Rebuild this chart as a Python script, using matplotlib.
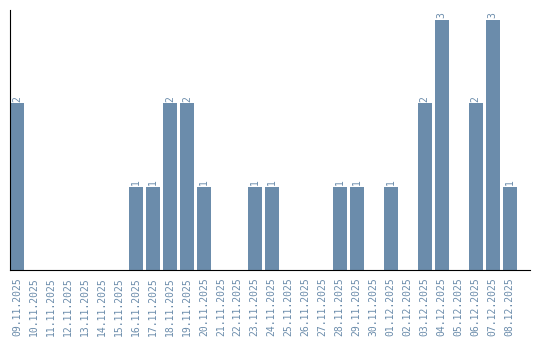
import matplotlib
matplotlib.use("Agg")
import matplotlib.pyplot as plt
import numpy as np

dates = ["09.11.2025", "10.11.2025", "11.11.2025", "12.11.2025", "13.11.2025",
         "14.11.2025", "15.11.2025", "16.11.2025", "17.11.2025", "18.11.2025",
         "19.11.2025", "20.11.2025", "21.11.2025", "22.11.2025", "23.11.2025",
         "24.11.2025", "25.11.2025", "26.11.2025", "27.11.2025", "28.11.2025",
         "29.11.2025", "30.11.2025", "01.12.2025", "02.12.2025", "03.12.2025",
         "04.12.2025", "05.12.2025", "06.12.2025", "07.12.2025", "08.12.2025"]
counts = [2, 0, 0, 0, 0, 0, 0, 1, 1, 2,
          2, 1, 0, 0, 1, 1, 0, 0, 0, 1,
          1, 0, 1, 0, 2, 3, 0, 2, 3, 1]

bar_col = "#6b8cab"
txt_col = "#6b8cab"

fig = plt.figure(figsize=(5.4, 3.4), dpi=100)
ax = fig.add_axes([10/540, 70/340, 520/540, 260/340])

x = np.arange(len(dates))
ax.bar(x, counts, width=0.82, color=bar_col)
for xi, v in zip(x, counts):
    if v > 0:
        ax.text(xi, v + 0.02, str(v), rotation=90, ha="center", va="bottom",
                fontsize=7, color=txt_col, family="DejaVu Sans Mono")

ax.set_xlim(-0.41, 30.2)
ax.set_ylim(0, 3.12)
ax.set_xticks(x)
ax.set_xticklabels(dates, rotation=90, fontsize=7, color=txt_col,
                   family="DejaVu Sans Mono")
ax.tick_params(axis="x", length=0, pad=5)
ax.set_yticks([])
for s in ["top", "right"]:
    ax.spines[s].set_visible(False)
ax.spines["left"].set_color("black")
ax.spines["bottom"].set_color("black")

fig.savefig("out.png", dpi=100)
